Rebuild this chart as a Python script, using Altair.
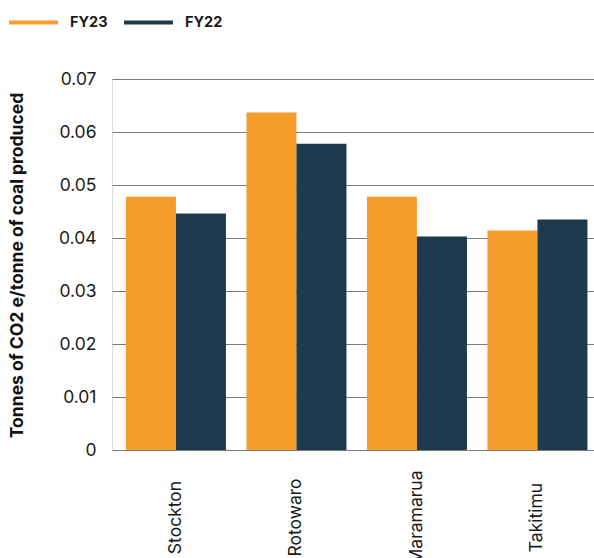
import altair as alt
import pandas as pd

# Emissions intensity per mine site, two financial years
sites = ["Stockton", "Rotowaro", "Maramarua", "Takitimu"]
fy23 = [0.0478, 0.0637, 0.0478, 0.0414]
fy22 = [0.0446, 0.0578, 0.0403, 0.0435]
years = ["FY23", "FY22"]
colors = ["#F69E2B", "#1F3A4D"]
y_ticks = [0, 0.01, 0.02, 0.03, 0.04, 0.05, 0.06, 0.07]

rows = []
for s, a, b in zip(sites, fy23, fy22):
    rows.append({"site": s, "year": "FY23", "value": a})
    rows.append({"site": s, "year": "FY22", "value": b})
df = pd.DataFrame(rows)

FONT = "Inter"

chart = (
    alt.Chart(df)
    .mark_bar()
    .encode(
        x=alt.X(
            "site:N",
            sort=sites,
            title=None,
            scale=alt.Scale(paddingInner=0.17, paddingOuter=0.085, align=0.68),
            axis=alt.Axis(
                labelAngle=-90,
                labelAlign="center",
                labelBaseline="middle",
                labelPadding=67,
                ticks=False,
                domain=False,
                grid=False,
                labelFont=FONT,
                labelFontSize=17.5,
                labelColor="#1a1a1a",
            ),
        ),
        xOffset=alt.XOffset("year:N", sort=years, scale=alt.Scale(paddingInner=0, paddingOuter=0)),
        y=alt.Y(
            "value:Q",
            scale=alt.Scale(domain=[0, 0.07], nice=False),
            axis=alt.Axis(
                values=y_ticks,
                labelExpr="datum.value == 0 ? '0' : format(datum.value, '.2f')",
                title="Tonnes of CO2 e/tonne of coal produced",
                titleFont=FONT,
                titleFontSize=17.5,
                titleFontWeight="bold",
                titleColor="#111",
                titleAngle=-90,
                titleAlign="center",
                titleBaseline="middle",
                titleX=-95,
                titleY=186,
                labelFont=FONT,
                labelFontSize=17.5,
                labelColor="#1a1a1a",
                labelPadding=16,
                ticks=False,
                domain=False,
                grid=True,
                gridColor="#7a7a7a",
                gridWidth=1.2,
                gridOpacity=1,
            ),
        ),
        color=alt.Color(
            "year:N",
            sort=years,
            scale=alt.Scale(domain=years, range=colors),
            legend=alt.Legend(
                title=None,
                orient="none",
                direction="horizontal",
                legendX=-103,
                legendY=-81,
                symbolType="M-1,-0.08H1V0.08H-1Z",
                symbolSize=2401,
                symbolStrokeWidth=0,
                labelFont=FONT,
                labelFontSize=14.5,
                labelFontWeight="bold",
                labelColor="#1a1a1a",
                labelOffset=12,
                columnPadding=16,
                padding=0,
            ),
        ),
    )
    .properties(
        width=482,
        height=371,
        autosize=alt.AutoSizeParams(type="none"),
        padding={"left": 112, "top": 79, "right": 0, "bottom": 108},
    )
    .configure_view(stroke=None)
    .configure(background="white")
)

chart.save("out.html", embed_options={"renderer": "svg", "actions": False})
